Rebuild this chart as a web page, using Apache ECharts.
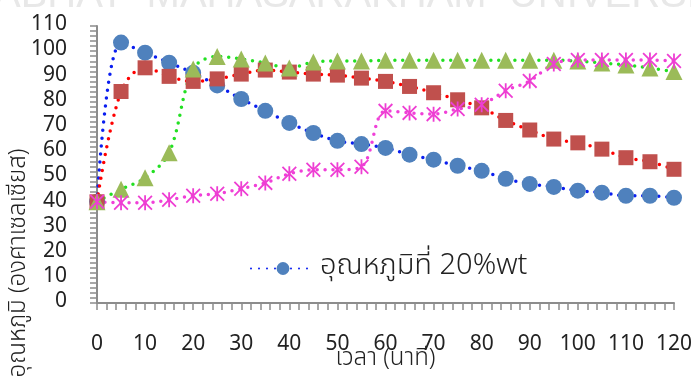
<!DOCTYPE html>
<html>
<head>
<meta charset="utf-8">
<script src="https://cdn.jsdelivr.net/npm/echarts@6/dist/echarts.min.js"></script>
<style>
html,body{margin:0;padding:0;background:#fff;}
#chart{width:691px;height:376px;}
</style>
</head>
<body>
<div id="chart"></div>
<script>
var times = [0,5,10,15,20,25,30,35,40,45,50,55,60,65,70,75,80,85,90,95,100,105,110,115,120];
var seriesNames = ['อุณหภูมิที่ 20%wt','อุณหภูมิที่ 30%wt','อุณหภูมิที่ 40%wt','อุณหภูมิที่ 50%wt'];
var blueValues = [40.2,103.4,99.4,95.4,91.4,86.4,81,76.3,71.5,67.5,64.4,63.1,61.6,58.9,56.9,54.5,52.5,49.3,47.3,46.1,44.6,43.8,42.6,42.6,41.8];
var redValues = [40.2,84,93.4,90,88,89,90.9,92.5,91.7,90.9,90.5,89.3,88,86,83.5,80.7,77.5,72.5,68.7,65.1,63.6,61.1,57.7,56.1,53.1];
var greenValues = [40.2,45.2,49.7,59.7,92.9,97.9,96.9,95.3,93.3,95.7,96.1,96.1,96.4,96.4,96.4,96.4,96.4,96.4,96.4,96.4,96.1,95.3,94.5,93.3,91.9];
var pinkValues = [40.2,39.8,39.8,41,42.6,43.4,45.4,47.7,51.3,52.9,52.9,54.1,76.3,75.5,75,77,78.7,84.3,88.2,94.9,96.5,96.5,96.5,96.5,96.1];
var yTicks = {min:0, max:110, interval:10};
var xTicks = {min:0, max:120, interval:10};

function pairs(vals){ return times.map(function(t,i){ return [t, vals[i]]; }); }

var FONT = "'Liberation Sans Narrow','Noto Sans Thai','Noto Sans',sans-serif";
var TFONT = "'Noto Sans Thai','Noto Sans',sans-serif";
var asterisk = 'path://M4.4 0 L5.6 0 L5.6 10 L4.4 10 Z M0 0.85 L0.85 0 L10 9.15 L9.15 10 Z M9.15 0 L10 0.85 L0.85 10 L0 9.15 Z';

function lineSeries(name, vals, lineColor, markColor, symbol, size){
  return {
    name: name, type: 'line', data: pairs(vals), smooth: 0.35,
    symbol: symbol, symbolSize: size,
    itemStyle: {color: markColor, opacity: 1},
    lineStyle: {color: lineColor, width: 3.5, type: [0, 8], cap: 'round'},
    emphasis: {disabled: true}
  };
}

var chart = echarts.init(document.getElementById('chart'));
chart.setOption({
  animation: false,
  backgroundColor: '#ffffff',
  grid: {left: 97, right: 17, top: 26, bottom: 73, containLabel: false, outerBoundsMode: 'none'},
  graphic: [
    {type:'text', left: -6, top: -24, silent: true,
     style:{text:'ABHAT  MAHASARAKHAM  UNIVERSITY', font:"lighter 40px 'Liberation Sans',sans-serif", fill:'#e8e8e8'}},
    {type:'text', x: 20, y: 263, rotation: Math.PI/2, silent: true,
     style:{text:'อุณหภูมิ (องศาเซลเซียส)', font:"300 24px " + TFONT, fill:'#222', align:'center', verticalAlign:'middle'}}
  ],
  legend: {
    data: [seriesNames[0]], left: 245, top: 249,
    itemWidth: 64, itemHeight: 16, itemGap: 10,
    textStyle: {fontFamily: TFONT, fontSize: 29, fontWeight: 300, color: '#222'}
  },
  xAxis: {
    type: 'value', min: xTicks.min, max: xTicks.max, interval: xTicks.interval,
    name: 'เวลา (นาที)', nameLocation: 'middle', nameGap: 45, nameMoveOverlap: false,
    nameTextStyle: {fontFamily: TFONT, fontSize: 24, fontWeight: 300, color: '#222'},
    axisLine: {show: true, onZero: false, lineStyle: {color: '#8c8c8c', width: 2}},
    axisTick: {show: true, length: 7, lineStyle: {color: '#8c8c8c', width: 1.5}},
    minorTick: {show: true, splitNumber: 5, length: 7, lineStyle: {color: '#8c8c8c', width: 1.5}},
    axisLabel: {margin: 32, fontFamily: FONT, fontSize: 21, color: '#222'},
    splitLine: {show: false}
  },
  yAxis: {
    type: 'value', min: yTicks.min, max: yTicks.max, interval: yTicks.interval,
    axisLine: {show: true, lineStyle: {color: '#8c8c8c', width: 2}},
    axisTick: {show: true, length: 7, lineStyle: {color: '#8c8c8c', width: 1.5}},
    minorTick: {show: true, splitNumber: 5, length: 7, lineStyle: {color: '#8c8c8c', width: 1.5}},
    axisLabel: {margin: 30, fontFamily: FONT, fontSize: 21, color: '#222'},
    splitLine: {show: false}
  },
  series: [
    lineSeries(seriesNames[0], blueValues, '#0a1ef0', '#4f81bd', 'circle', 16),
    lineSeries(seriesNames[1], redValues, '#ff0000', '#c0504d', 'rect', 15),
    lineSeries(seriesNames[2], greenValues, '#22e022', '#9bbb59', 'triangle', 17),
    lineSeries(seriesNames[3], pinkValues, '#f040d8', '#ee3ed3', asterisk, 15)
  ]
});
</script>
</body>
</html>
